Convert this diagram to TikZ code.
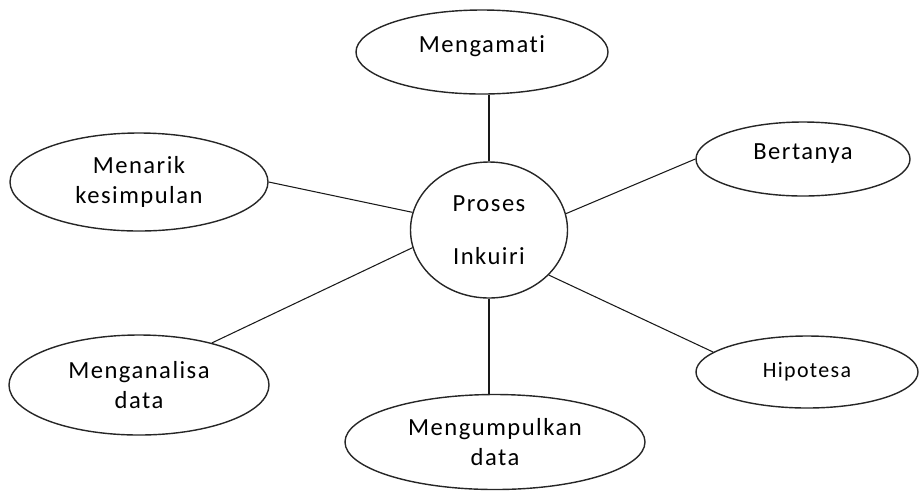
\documentclass[tikz,border=0pt]{standalone}
\usepackage{fontspec}
\setmainfont{Carlito}[LetterSpace=6,Ligatures=NoCommon]
\usetikzlibrary{shapes.geometric}

\begin{document}
\begin{tikzpicture}[bubble/.style={draw=black!85, line width=0.8pt, ellipse, align=center, inner sep=0pt},
  spoke/.style={draw=black!90, line width=0.6pt},
  every node/.style={font=\fontsize{14}{17}\selectfont}]

\useasboundingbox (0,0) rectangle (18.38,-9.8);

\node[bubble, minimum width=3.14cm, minimum height=2.72cm] (inkuiri) at (9.78,-4.6) {Proses\\[0.45cm]Inkuiri};
\node[bubble, minimum width=5.04cm, minimum height=1.68cm] (mengamati) at (9.64,-1.04) {\raisebox{0pt}[0pt][0pt]{Mengamati}};
\node[bubble, minimum width=4.28cm, minimum height=1.48cm] (bertanya) at (16.06,-3.18) {\raisebox{0pt}[0pt][0pt]{Bertanya}};
\node[bubble, minimum width=5.16cm, minimum height=1.96cm] (menarik) at (2.78,-3.64) {Menarik\\kesimpulan};
\node[bubble, minimum width=5.2cm, minimum height=2cm] (menganalisa) at (2.78,-7.7) {Menganalisa\\data};
\node[bubble, minimum width=6cm, minimum height=1.9cm] (mengumpulkan) at (9.9,-8.84) {Mengumpulkan\\data};
\node[bubble, minimum width=4.44cm, minimum height=1.44cm, font=\fontsize{12.5}{15}\selectfont] (hipotesa) at (16.14,-7.44) {Hipotesa};

\draw[spoke] (inkuiri.north) -- (inkuiri.north |- mengamati.south);
\draw[spoke] (inkuiri.12) -- (bertanya.west);
\draw[spoke] (inkuiri.167) -- (menarik.east);
\draw[spoke] (inkuiri.193) -- (menganalisa.30);
\draw[spoke] (inkuiri.south) -- (inkuiri.south |- mengumpulkan.north);
\draw[spoke] (inkuiri.323) -- (hipotesa.168);
\end{tikzpicture}
\end{document}
